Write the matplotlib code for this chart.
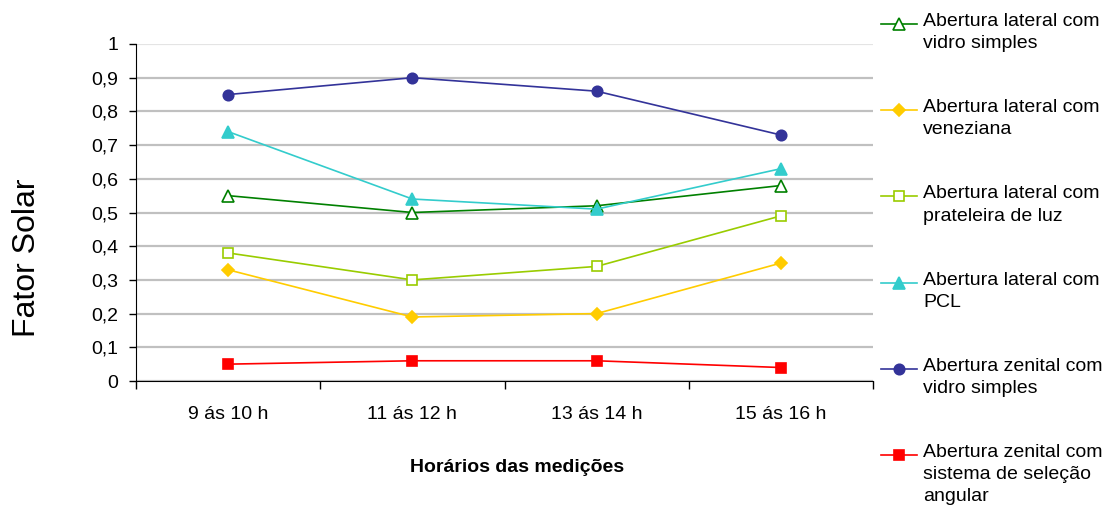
import matplotlib
matplotlib.use("Agg")
import matplotlib.pyplot as plt
from matplotlib.lines import Line2D

plt.rcParams['font.family'] = ['Liberation Sans', 'DejaVu Sans']

horarios = ['9 ás 10 h', '11 ás 12 h', '13 ás 14 h', '15 ás 16 h']

lateral_vidro = [0.55, 0.50, 0.52, 0.58]
lateral_veneziana = [0.33, 0.19, 0.20, 0.35]
lateral_prateleira = [0.38, 0.30, 0.34, 0.49]
lateral_pcl = [0.74, 0.54, 0.51, 0.63]
zenital_vidro = [0.85, 0.90, 0.86, 0.73]
zenital_selecao = [0.05, 0.06, 0.06, 0.04]

series = [
    ('Abertura lateral com\nvidro simples', lateral_vidro, '#008000', '^', 'white'),
    ('Abertura lateral com\nveneziana', lateral_veneziana, '#FFCC00', 'D', '#FFCC00'),
    ('Abertura lateral com\nprateleira de luz', lateral_prateleira, '#99CC00', 's', 'white'),
    ('Abertura lateral com\nPCL', lateral_pcl, '#33CCCC', '^', '#33CCCC'),
    ('Abertura zenital com\nvidro simples', zenital_vidro, '#333399', 'o', '#333399'),
    ('Abertura zenital com\nsistema de seleção\nangular', zenital_selecao, '#FF0000', 's', '#FF0000'),
]
msizes = {'^': 8, 'D': 6.5, 's': 7.5, 'o': 7.5}

W, H = 1104, 513
fig = plt.figure(figsize=(W / 100, H / 100), dpi=100)
ax = fig.add_axes([136 / W, 1 - 381 / H, (873 - 136) / W, (381 - 44) / H])

x = list(range(len(horarios)))
for label, vals, color, marker, face in series:
    ax.plot(x, vals, color=color, lw=1.2, marker=marker, markersize=msizes[marker],
            markerfacecolor=face, markeredgecolor=color, markeredgewidth=1.2,
            clip_on=False, zorder=3)

ax.set_xlim(-0.5, len(horarios) - 0.5)
ax.set_ylim(0, 1)
ax.set_yticks([i / 10 for i in range(11)])
ax.set_yticklabels(['0', '0,1', '0,2', '0,3', '0,4', '0,5', '0,6', '0,7', '0,8', '0,9', '1'])
ax.set_xticks(x)
ax.set_xticklabels(horarios)
ax.set_xticks([i - 0.5 for i in range(len(horarios) + 1)], minor=True)
ax.tick_params(axis='x', which='major', length=0, pad=18, labelsize=14)
ax.tick_params(axis='x', which='minor', length=6, width=1, direction='out')
ax.tick_params(axis='y', length=5, width=1, direction='out', pad=8, labelsize=14)
ax.grid(axis='y', color='#C0C0C0', lw=1.6, zorder=0)
ax.get_ygridlines()[-1].set_color('#E4E4E4')
ax.set_axisbelow(True)
for s in ['top', 'right']:
    ax.spines[s].set_visible(False)
ax.spines['left'].set_color('black')
ax.spines['bottom'].set_color('black')

fig.text(517 / W, 1 - 468 / H, 'Horários das medições', ha='center', va='center',
         fontsize=14, fontweight='bold')
fig.text(27 / W, 1 - 258 / H, 'Fator Solar', ha='center', va='center',
         rotation=90, fontsize=23)

# legend drawn by hand so the handle sits on the first line of text
y0 = 24
step = 86.2
for i, (label, vals, color, marker, face) in enumerate(series):
    yc = 1 - (y0 + i * step) / H
    fig.add_artist(Line2D([881 / W, 917 / W], [yc, yc], color=color, lw=1.2,
                          transform=fig.transFigure))
    fig.add_artist(Line2D([899 / W], [yc], marker=marker, markersize=msizes[marker],
                          markerfacecolor=face, markeredgecolor=color,
                          markeredgewidth=1.2, transform=fig.transFigure))
    fig.text(923 / W, yc + 11 / H, label, ha='left', va='top', fontsize=14,
             linespacing=1.4)

fig.savefig('out.png', dpi=100)
